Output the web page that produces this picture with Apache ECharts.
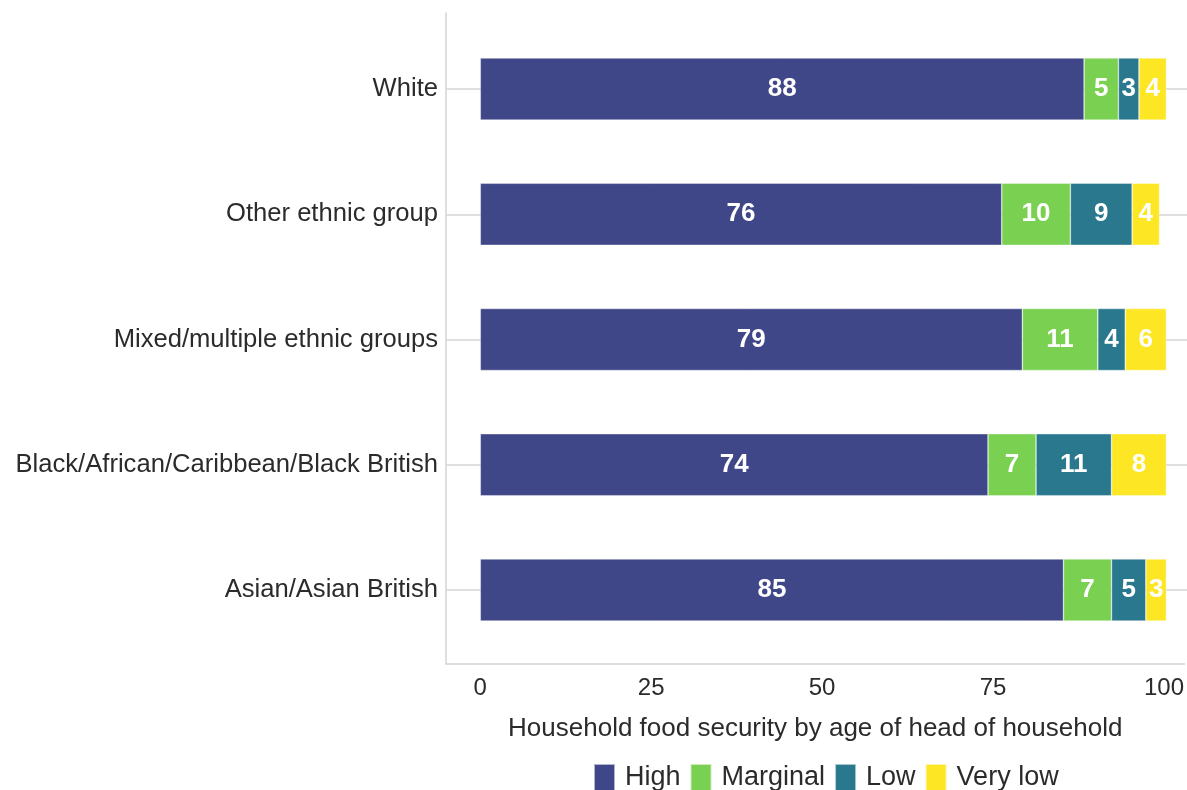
<!DOCTYPE html>
<html>
<head>
<meta charset="utf-8">
<script src="https://cdn.jsdelivr.net/npm/echarts@6/dist/echarts.min.js"></script>
<style>
  html, body { margin: 0; padding: 0; background: #fff; }
  #chart { width: 1187px; height: 790px; }
</style>
</head>
<body>
<div id="chart"></div>
<script>
// Categories listed bottom to top
const categories = [
  'Asian/Asian British',
  'Black/African/Caribbean/Black British',
  'Mixed/multiple ethnic groups',
  'Other ethnic group',
  'White'
];
const seriesNames = ['High', 'Marginal', 'Low', 'Very low'];
const high     = [85, 74, 79, 76, 88];
const marginal = [7, 7, 11, 10, 5];
const low      = [5, 11, 4, 9, 3];
const veryLow  = [3, 8, 6, 4, 4];
const xTicks = [0, 25, 50, 75, 100];
const xTitle = 'Household food security by age of head of household';

const colors = ['#404788', '#7AD151', '#2A788E', '#FDE725'];
const values = [high, marginal, low, veryLow];
const FONT = '"Liberation Sans", Arial, Helvetica, sans-serif';
const textColor = '#2b2b2b';
const lineColor = '#d4d4d4';

const chart = echarts.init(document.getElementById('chart'), null, { renderer: 'canvas' });

const option = {
  backgroundColor: '#ffffff',
  animation: false,
  textStyle: { fontFamily: FONT },
  color: colors,
  grid: [
    { left: 446, right: 0, top: 13, bottom: 126, containLabel: false },
    { left: 446, right: 0, top: 26.4, bottom: 137.4, containLabel: false }
  ],
  legend: {
    data: seriesNames,
    left: 593,
    top: 763,
    padding: 0,
    orient: 'horizontal',
    itemWidth: 21,
    itemHeight: 28,
    itemGap: 9,
    icon: 'rect',
    textStyle: { fontSize: 27, color: textColor, fontFamily: FONT, padding: [0, 0, 0, 5] }
  },
  xAxis: [
    {
      gridIndex: 0,
      type: 'value',
      min: -5,
      max: 103,
      axisLine: { show: true, onZero: false, lineStyle: { color: lineColor, width: 1.5 } },
      axisTick: { show: false },
      splitLine: { show: false },
      axisLabel: {
        customValues: xTicks,
        fontSize: 24,
        color: textColor,
        margin: 12,
        fontFamily: FONT
      },
      name: xTitle,
      nameLocation: 'middle',
      nameGap: 52,
      nameTextStyle: { fontSize: 26, color: textColor, fontFamily: FONT }
    },
    {
      gridIndex: 1,
      type: 'value',
      min: -5,
      max: 103,
      show: false
    }
  ],
  yAxis: [
    {
      gridIndex: 0,
      type: 'value',
      min: 0,
      max: 1,
      axisLine: { show: true, onZero: false, lineStyle: { color: lineColor, width: 1.5 } },
      axisTick: { show: false },
      axisLabel: { show: false },
      splitLine: { show: false }
    },
    {
      gridIndex: 1,
      type: 'category',
      data: categories,
      axisLine: { show: false },
      axisTick: { show: false },
      axisLabel: { fontSize: 25.6, color: textColor, margin: 8, fontFamily: FONT },
      splitLine: { show: true, alignWithLabel: true, lineStyle: { color: lineColor, width: 1.5 } }
    }
  ],
  series: seriesNames.map((name, i) => ({
    name: name,
    type: 'bar',
    stack: 'total',
    xAxisIndex: 1,
    yAxisIndex: 1,
    barWidth: 62,
    data: values[i],
    itemStyle: { color: colors[i], borderColor: 'rgba(255,255,255,0.6)', borderWidth: 0.6 },
    label: {
      show: true,
      position: 'inside',
      color: '#ffffff',
      fontWeight: 'bold',
      fontSize: 26,
      fontFamily: FONT
    }
  }))
};

chart.setOption(option);
</script>
</body>
</html>
